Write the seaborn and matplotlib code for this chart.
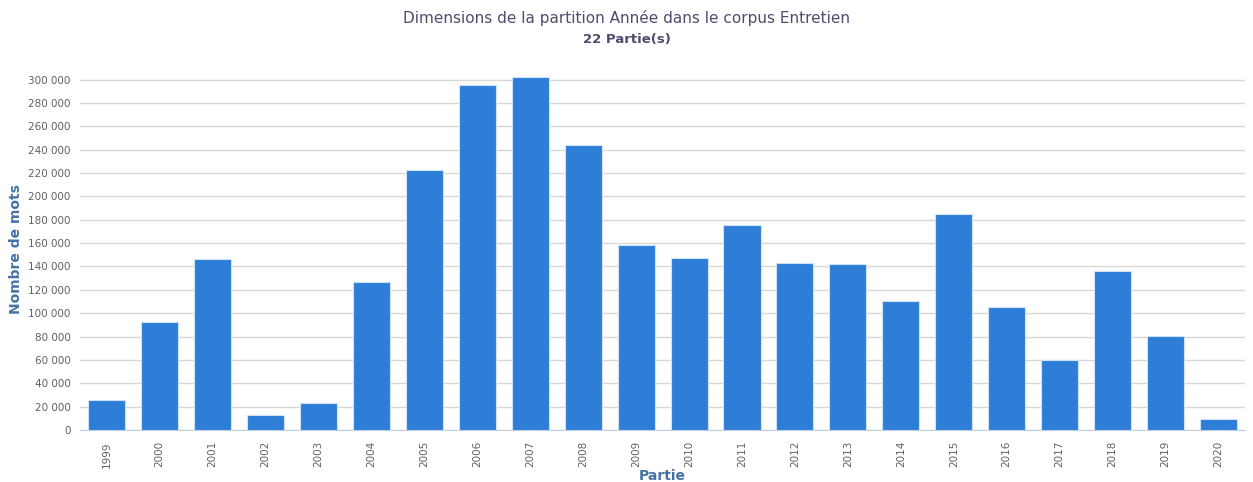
import matplotlib
matplotlib.use("Agg")
import matplotlib.pyplot as plt
import matplotlib.ticker as mticker
import pandas as pd
import seaborn as sns

# Data
years = ["1999", "2000", "2001", "2002", "2003", "2004", "2005", "2006", "2007", "2008", "2009",
         "2010", "2011", "2012", "2013", "2014", "2015", "2016", "2017", "2018", "2019", "2020"]
words = [25700, 92500, 146600, 13100, 23100, 126900, 222900, 295700, 302600, 244300, 158600,
         147400, 175700, 143100, 142300, 110600, 185100, 105400, 60000, 136300, 80600, 9600]

df = pd.DataFrame({"Partie": years, "Nombre de mots": words})

sns.set_style("white")
plt.rcParams["font.family"] = ["DejaVu Sans"]

fig = plt.figure(figsize=(12.53, 4.82), dpi=100)
ax = fig.add_axes([0.064, 0.108, 0.9296, 0.751])

sns.barplot(data=df, x="Partie", y="Nombre de mots", color="#2e7ed8", saturation=1,
            width=0.7, edgecolor="#cfe3f8", linewidth=0.8, ax=ax, zorder=3)

ax.set_ylim(0, 310000)
ax.set_xlim(-0.5, len(years) - 0.5)
ax.yaxis.set_major_locator(mticker.MultipleLocator(20000))
ax.yaxis.set_major_formatter(mticker.FuncFormatter(lambda v, p: f"{int(v):,}".replace(",", " ")))
ax.grid(axis="y", color="#d8d8d8", linewidth=1, zorder=0)
for s in ["top", "right", "left"]:
    ax.spines[s].set_visible(False)
ax.spines["bottom"].set_color("#c0d0e0")

ax.tick_params(axis="y", length=0, labelsize=7.5, labelcolor="#606060", pad=7)
ax.tick_params(axis="x", length=0, labelsize=7.5, labelcolor="#606060", pad=8)
plt.setp(ax.get_xticklabels(), rotation=90)
ax.set_xticks([i + 0.5 for i in range(len(years) - 1)], minor=True)
ax.tick_params(axis="x", which="minor", length=5, color="#c0d0e0")

ax.set_ylabel("Nombre de mots", fontsize=10, fontweight="bold", color="#4572a7", va="center")
ax.set_xlabel("Partie", fontsize=10, fontweight="bold", color="#4572a7", va="center")
ax.yaxis.set_label_coords(-0.055, 0.5)
ax.xaxis.set_label_coords(0.5, -0.128)

fig.text(0.5, 0.962, "Dimensions de la partition Année dans le corpus Entretien",
         ha="center", va="center", fontsize=11, color="#4d4d6d")
fig.text(0.5, 0.919, "22 Partie(s)", ha="center", va="center", fontsize=9.5,
         fontweight="bold", color="#4d4d6d")

fig.savefig("out.png", dpi=100)
